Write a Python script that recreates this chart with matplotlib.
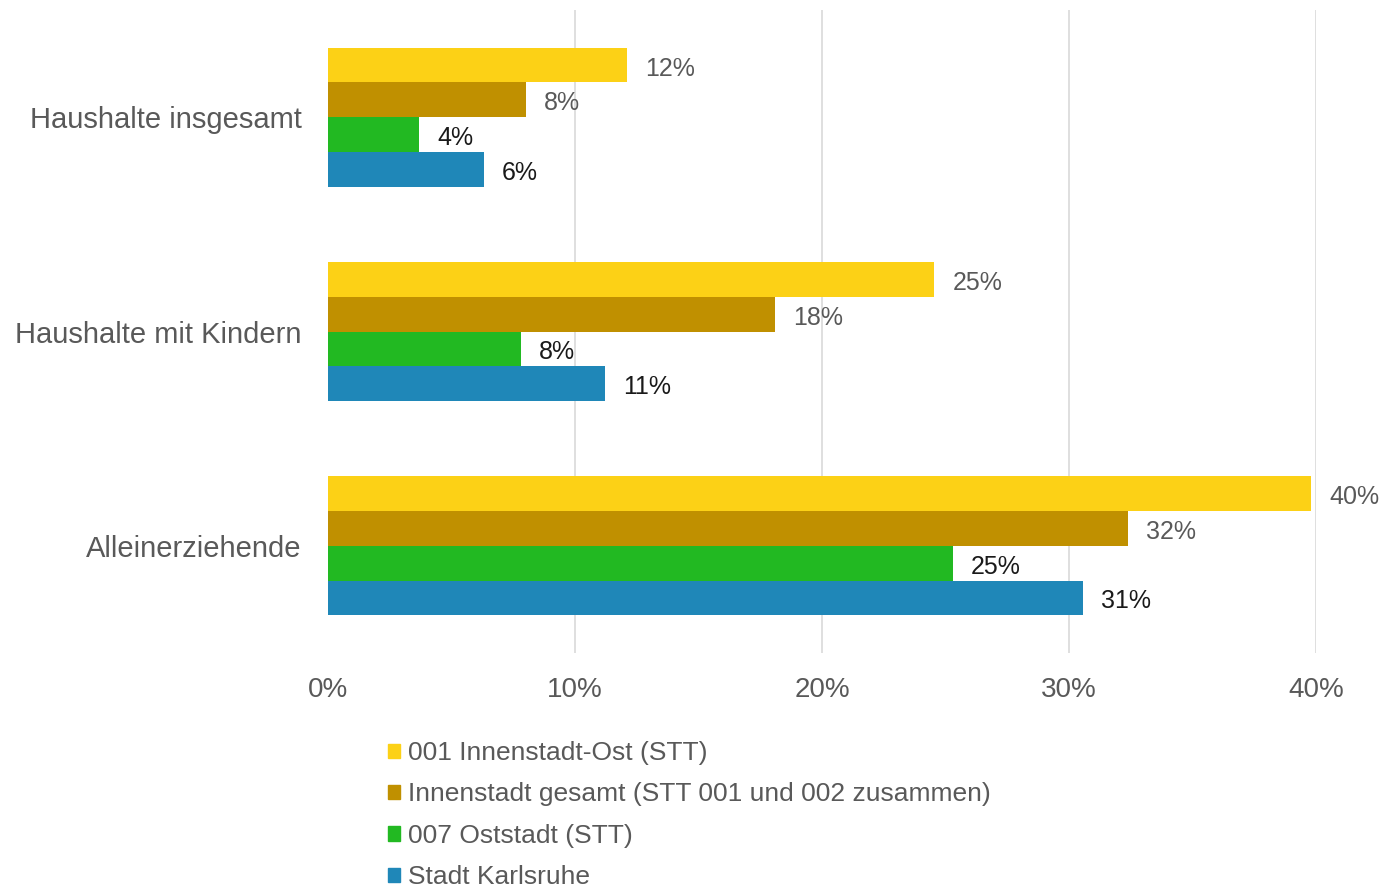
import numpy as np
import matplotlib.pyplot as plt
from matplotlib.patches import Patch

plt.rcParams['font.family'] = ['Liberation Sans', 'DejaVu Sans']

categories = ['Haushalte insgesamt', 'Haushalte mit Kindern', 'Alleinerziehende']
series = ['001 Innenstadt-Ost (STT)',
          'Innenstadt gesamt (STT 001 und 002 zusammen)',
          '007 Oststadt (STT)',
          'Stadt Karlsruhe']
innenstadt_ost = [12.1, 24.55, 39.8]
innenstadt_gesamt = [8.0, 18.1, 32.4]
oststadt = [3.7, 7.8, 25.3]
karlsruhe = [6.3, 11.2, 30.55]
values = [innenstadt_ost, innenstadt_gesamt, oststadt, karlsruhe]
colors = ['#FCD116', '#C09000', '#22B922', '#1F87B8']
label_colors = ['#595959', '#595959', '#1a1a1a', '#1a1a1a']

fig = plt.figure(figsize=(13.86, 8.88), dpi=100)
ax = fig.add_axes([328/1386, 1 - 653/888, (1316-328)/1386, (653-10)/888])

y = np.arange(len(categories))
h = 0.162
for i, vals in enumerate(values):
    bars = ax.barh(y + (i - 1.5) * h, vals, h, color=colors[i], zorder=3)
    anns = ax.bar_label(bars, labels=['%d%%' % round(v) for v in vals], padding=13,
                        fontsize=18, color=label_colors[i])
    for a in anns:
        a.xyann = (13, -2.5)

ax.set_xlim(0, 40)
ax.set_ylim(2.5, -0.5)
ax.set_xticks([0, 10, 20, 30, 40])
ax.set_xticklabels(['0%', '10%', '20%', '30%', '40%'])
ax.set_yticks(y)
ax.set_yticklabels(categories)
ax.tick_params(axis='x', length=0, pad=17, labelsize=20, labelcolor='#595959')
ax.tick_params(axis='y', length=0, pad=19, labelsize=21, labelcolor='#595959')
ax.grid(axis='x', color='#D9D9D9', linewidth=1.2, zorder=0)
ax.xaxis.get_gridlines()[0].set_visible(False)
for s in ax.spines.values():
    s.set_visible(False)

handles = [Patch(color=c) for c in colors]
fig.legend(handles, series, loc='upper left', bbox_to_anchor=(388/1386, 1 - 741/888),
           frameon=False, fontsize=19, labelcolor='#595959',
           handlelength=0.45, handleheight=0.45, handletextpad=0.3,
           labelspacing=0.66, borderpad=0, borderaxespad=0)

fig.savefig('out.png')
